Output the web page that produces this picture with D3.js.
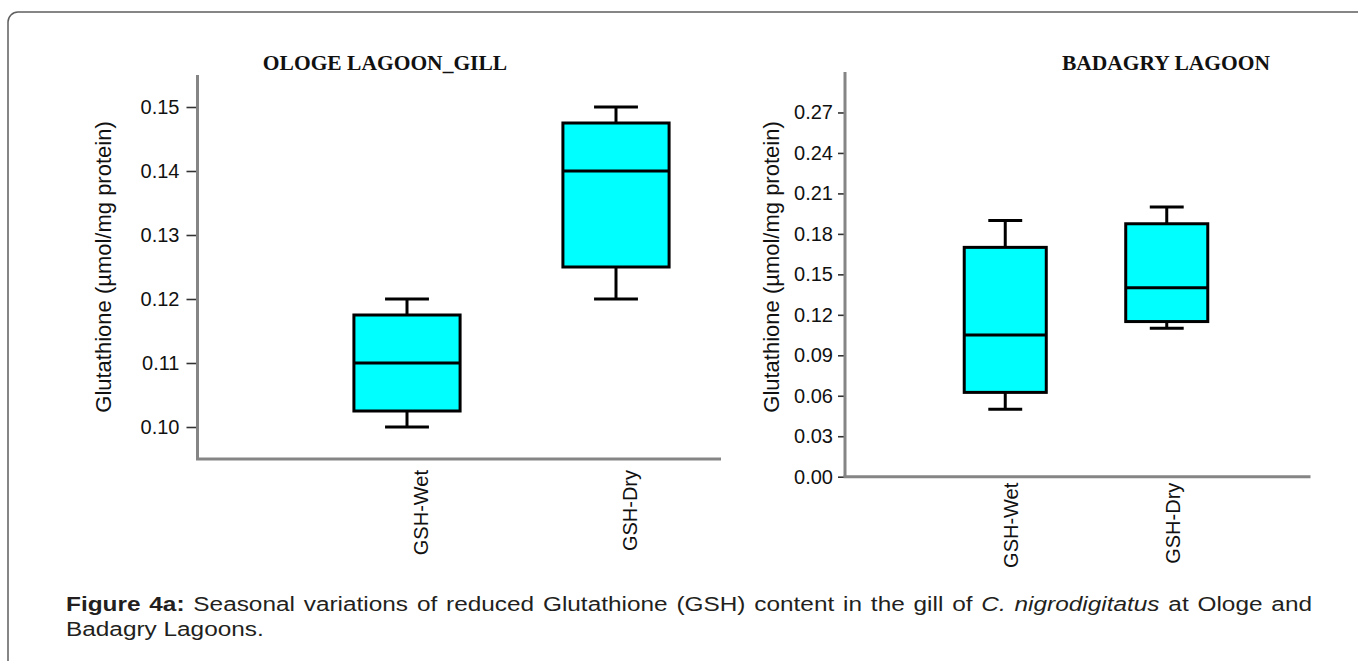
<!DOCTYPE html>
<html>
<head>
<meta charset="utf-8">
<script src="https://cdn.jsdelivr.net/npm/d3@7"></script>
<style>
  html, body { margin: 0; padding: 0; background: #fff; }
  svg { display: block; }
</style>
</head>
<body>
<svg id="fig" width="1358" height="661"></svg>
<script>
// ---- data ----
const categories = ["GSH-Wet", "GSH-Dry"];
// five-number summaries per category: [min, q1, median, q3, max]
const ologeGillStats = [
  [0.100, 0.1025, 0.110, 0.1175, 0.120],
  [0.120, 0.125, 0.140, 0.1475, 0.150]
];
const badagryStats = [
  [0.050, 0.0625, 0.105, 0.170, 0.190],
  [0.110, 0.115, 0.140, 0.1875, 0.200]
];
const ologeTicks = [0.10, 0.11, 0.12, 0.13, 0.14, 0.15];
const badagryTicks = [0.00, 0.03, 0.06, 0.09, 0.12, 0.15, 0.18, 0.21, 0.24, 0.27];
const panelTitles = ["OLOGE LAGOON_GILL", "BADAGRY LAGOON"];
const yAxisTitle = "Glutathione (\u00b5mol/mg protein)";

// ---- layout ----
const panels = [
  {
    title: panelTitles[0], stats: ologeGillStats, ticks: ologeTicks,
    domain: [0.095, 0.155], yTop: 75, yBottom: 459,
    axisX: 197.5, axisEnd: 721, band: [302.5, 720.5],
    titleX: 385, ytitleX: 103, tickSize: 11, tickPad: 7,
    labelDx: 14, labelGap: 11
  },
  {
    title: panelTitles[1], stats: badagryStats, ticks: badagryTicks,
    domain: [0, 0.30], yTop: 72, yBottom: 476.7,
    axisX: 845, axisEnd: 1310.5, band: [924.5, 1247.5],
    titleX: 1166, ytitleX: 771, tickSize: 7, tickPad: 5,
    labelDx: 6, labelGap: 6
  }
];

const svg = d3.select("#fig");
const sans = "'Liberation Sans', Arial, Helvetica, sans-serif";
const serif = "'Liberation Serif', 'Times New Roman', serif";

// figure frame
svg.append("rect")
  .attr("x", 8).attr("y", 12)
  .attr("width", 1400).attr("height", 720)
  .attr("rx", 10).attr("ry", 10)
  .attr("fill", "none").attr("stroke", "#5f5f5f").attr("stroke-width", 1.5);

panels.forEach(p => {
  const g = svg.append("g");
  const y = d3.scaleLinear().domain(p.domain).range([p.yBottom, p.yTop]);
  const x = d3.scaleBand().domain(categories).range(p.band).paddingInner(0).paddingOuter(0);
  const bw = x.bandwidth();
  const boxW = bw * 0.508;
  const capW = bw * 0.21;

  // panel title
  g.append("text")
    .attr("x", p.titleX).attr("y", 70)
    .attr("text-anchor", "middle")
    .style("font-family", serif).style("font-weight", "bold").style("font-size", "21.5px")
    .attr("fill", "#111")
    .text(p.title);

  // y axis
  const yAxis = d3.axisLeft(y).tickValues(p.ticks)
    .tickFormat(d3.format(".2f"))
    .tickSize(p.tickSize).tickPadding(p.tickPad);
  const ya = g.append("g").attr("transform", `translate(${p.axisX},0)`).call(yAxis);
  ya.select(".domain").remove();
  ya.selectAll(".tick line").attr("stroke", "#333").attr("stroke-width", 1.6);
  ya.selectAll(".tick text")
    .style("font-family", sans).style("font-size", "20px").attr("fill", "#111");

  // axis lines (drawn after ticks so they sit on top)
  g.append("line")
    .attr("x1", p.axisX).attr("x2", p.axisX)
    .attr("y1", p.yTop).attr("y2", p.yBottom)
    .attr("stroke", "#858585").attr("stroke-width", 3);
  g.append("line")
    .attr("x1", p.axisX - 1.5).attr("x2", p.axisEnd)
    .attr("y1", p.yBottom).attr("y2", p.yBottom)
    .attr("stroke", "#858585").attr("stroke-width", 3);

  // y axis title
  g.append("text")
    .attr("transform", `translate(${p.ytitleX},267) rotate(-90)`)
    .attr("text-anchor", "middle")
    .attr("dominant-baseline", "central")
    .style("font-family", sans).style("font-size", "22px").attr("fill", "#111")
    .text(yAxisTitle);

  // category labels
  categories.forEach(c => {
    g.append("text")
      .attr("transform", `translate(${x(c) + bw / 2 + p.labelDx},${p.yBottom + p.labelGap}) rotate(-90)`)
      .attr("text-anchor", "end")
      .attr("dominant-baseline", "central")
      .style("font-family", sans).style("font-size", "20px").attr("fill", "#111")
      .text(c);
  });

  // boxes
  const boxes = g.selectAll("g.box")
    .data(categories.map((c, i) => ({ c, s: p.stats[i] })))
    .join("g").attr("class", "box")
    .attr("transform", d => `translate(${x(d.c) + bw / 2},0)`);

  function styl(sel) { return sel.attr("stroke", "#000").attr("stroke-width", 3); }

  // whisker stems
  styl(boxes.append("line").attr("x1", 0).attr("x2", 0)
    .attr("y1", d => y(d.s[4])).attr("y2", d => y(d.s[3])));
  styl(boxes.append("line").attr("x1", 0).attr("x2", 0)
    .attr("y1", d => y(d.s[1])).attr("y2", d => y(d.s[0])));
  // caps
  styl(boxes.append("line").attr("x1", -capW / 2).attr("x2", capW / 2)
    .attr("y1", d => y(d.s[4])).attr("y2", d => y(d.s[4])));
  styl(boxes.append("line").attr("x1", -capW / 2).attr("x2", capW / 2)
    .attr("y1", d => y(d.s[0])).attr("y2", d => y(d.s[0])));
  // box
  styl(boxes.append("rect")
    .attr("x", -boxW / 2).attr("width", boxW)
    .attr("y", d => y(d.s[3]))
    .attr("height", d => y(d.s[1]) - y(d.s[3]))
    .attr("fill", "#00ffff"));
  // median
  styl(boxes.append("line").attr("x1", -boxW / 2).attr("x2", boxW / 2)
    .attr("y1", d => y(d.s[2])).attr("y2", d => y(d.s[2])));
});

// ---- caption (justified first line, wide setting) ----
const captionLine1 = [
  { t: "Figure", w: "bold" }, { t: "4a:", w: "bold" },
  { t: "Seasonal" }, { t: "variations" }, { t: "of" }, { t: "reduced" },
  { t: "Glutathione" }, { t: "(GSH)" }, { t: "content" }, { t: "in" },
  { t: "the" }, { t: "gill" }, { t: "of" },
  { t: "C.", i: true }, { t: "nigrodigitatus", i: true },
  { t: "at" }, { t: "Ologe" }, { t: "and" }
];
const captionLine2 = "Badagry Lagoons.";
const capLeft = 66, capRight = 1312, capSize = 19.5, capStretch = 1.25;

const cap = svg.append("g")
  .attr("transform", `translate(${capLeft},0) scale(${capStretch},1)`)
  .style("font-family", sans).style("font-size", capSize + "px").attr("fill", "#231f20");
const words = cap.selectAll("text.w").data(captionLine1).join("text")
  .attr("class", "w")
  .attr("y", 611)
  .style("font-weight", d => d.w || "normal")
  .style("font-style", d => d.i ? "italic" : "normal")
  .text(d => d.t);
const widths = [];
words.each(function () { widths.push(this.getComputedTextLength()); });
const span = (capRight - capLeft) / capStretch;
const gap = (span - d3.sum(widths)) / (widths.length - 1);
let cx = 0;
words.attr("x", (d, i) => { const v = cx; cx += widths[i] + gap; return v; });

cap.append("text").attr("x", 0).attr("y", 636).text(captionLine2);
</script>
</body>
</html>
